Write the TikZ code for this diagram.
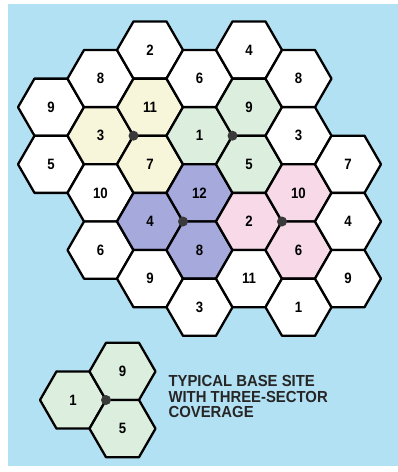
\documentclass[tikz,border=0pt]{standalone}
\usepackage{fontspec}
\setmainfont{Liberation Sans}[FakeStretch=0.88]
\newfontfamily\notefont{Liberation Sans}[FakeStretch=0.93]
\usetikzlibrary{shapes.geometric}

\definecolor{skyback}{HTML}{B3E1F4}
\definecolor{cream}{HTML}{F7F5DA}
\definecolor{mint}{HTML}{DCEFDF}
\definecolor{lavender}{HTML}{A6A9DC}
\definecolor{rosy}{HTML}{F7D9E8}
\definecolor{sitedot}{HTML}{3A3A3A}

\tikzset{
  cell/.style={regular polygon, regular polygon sides=6, minimum size=66pt,
    inner sep=0pt, outer sep=0pt, draw=black, line width=2.3pt, line join=round,
    fill=white, font=\fontsize{15}{15}\selectfont\bfseries},
  cellA/.style={cell, fill=cream},
  cellB/.style={cell, fill=mint},
  cellC/.style={cell, fill=lavender},
  cellD/.style={cell, fill=rosy},
  site/.style={fill=sitedot}
}

\begin{document}
\begin{tikzpicture}[x=1pt,y=-1pt]
\useasboundingbox (0,0) rectangle (398,472);
\fill[white] (0,0) rectangle (398,472);
\fill[skyback] (8,4) rectangle (398,466);

% first column
\node[cell] (n9a) at (51,107.2) {9};
\node[cell] (n5a) at (51,164.3) {5};

\node[cell] (n8a) at (100.5,78.6) {8};
\node[cellA] (n3a) at (100.5,135.7) {3};
\node[cell] (n10a) at (100.5,192.9) {10};
\node[cell] (n6a) at (100.5,250.1) {6};

\node[cell] (n2a) at (150,50) {2};
\node[cellA] (n11a) at (150,107.2) {11};
\node[cellA] (n7a) at (150,164.3) {7};
\node[cellC] (n4a) at (150,221.5) {4};
\node[cell] (n9b) at (150,278.6) {9};

\node[cell] (n6b) at (199.5,78.6) {6};
\node[cellB] (n1a) at (199.5,135.7) {1};
\node[cellC] (n12a) at (199.5,192.9) {12};
\node[cellC] (n8b) at (199.5,250.1) {8};
\node[cell] (n3b) at (199.5,307.2) {3};

\node[cell] (n4b) at (249,50) {4};
\node[cellB] (n9c) at (249,107.2) {9};
\node[cellB] (n5b) at (249,164.3) {5};
\node[cellD] (n2b) at (249,221.5) {2};
\node[cell] (n11b) at (249,278.6) {11};

\node[cell] (n8c) at (298.5,78.6) {8};
\node[cell] (n3c) at (298.5,135.7) {3};
\node[cellD] (n10b) at (298.5,192.9) {10};
\node[cellD] (n6c) at (298.5,250.1) {6};
\node[cell] (n1b) at (298.5,307.2) {1};

\node[cell] (n7b) at (348,164.3) {7};
\node[cell] (n4c) at (348,221.5) {4};
\node[cell] (n9d) at (348,278.6) {9};

% base sites
\fill[site] (n3a.east) circle (5);
\fill[site] (n1a.east) circle (5);
\fill[site] (n4a.east) circle (5);
\fill[site] (n2b.east) circle (5);

% legend
\node[cellB] (k1) at (73,400) {1};
\node[cellB] (k9) at (122.5,371.4) {9};
\node[cellB] (k5) at (122.5,428.6) {5};
\fill[site] (k1.east) circle (5);

\node[anchor=west, align=left, font=\notefont\fontsize{16}{15.5}\selectfont\bfseries,
  text=black!85] (note) at (165,396.5)
  {TYPICAL BASE SITE\\WITH THREE-SECTOR\\COVERAGE};
\end{tikzpicture}
\end{document}
